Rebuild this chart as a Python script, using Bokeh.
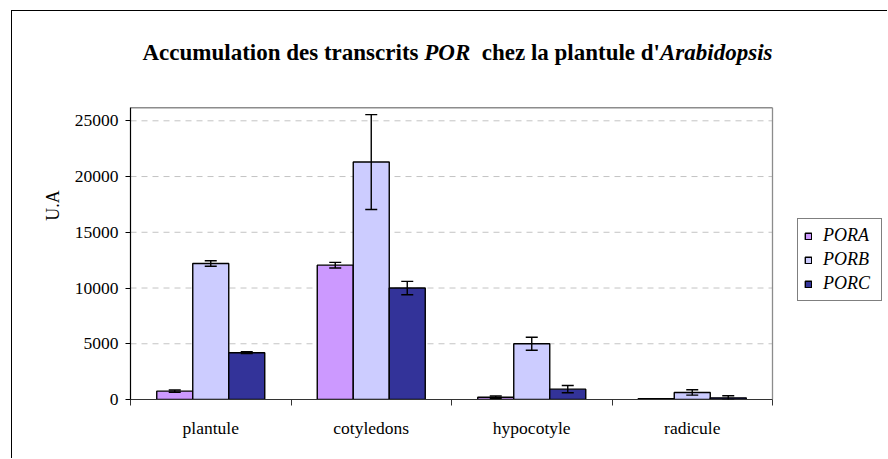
import numpy as np
from bokeh.plotting import figure
from bokeh.models import (Range1d, FixedTicker, ColumnDataSource, Whisker, Legend,
                          LegendItem, Label, TeeHead)
from bokeh.embed import file_html
from bokeh.resources import INLINE

categories = ["plantule", "cotyledons", "hypocotyle", "radicule"]
series = ["PORA", "PORB", "PORC"]
pora = [750, 12050, 200, 80]
porb = [12200, 21300, 5000, 630]
porc = [4200, 10000, 930, 150]
pora_err = [100, 250, 120, 0]
porb_err = [250, 4250, 580, 240]
porc_err = [80, 600, 330, 180]
colors = ["#CC99FF", "#CCCCFF", "#333399"]
y_ticks = [0, 5000, 10000, 15000, 20000, 25000]
y_top = 26170

FONT = "Liberation Serif"

# geometry (page px): chart border at (11,10), plot area x 130..772, y 107..399
W, H = 876, 448
left_b, bottom_b = 118, 60
frame_w = W - left_b
frame_h = H - bottom_b
unit_px = 160.5                      # px per category
px_per_val = 278.7 / 25000.0         # px per unit value
x_end = frame_w / unit_px
y_end = frame_h / px_per_val
ncat = len(categories)

p = figure(width=W, height=H, x_range=Range1d(0, x_end), y_range=Range1d(0, y_end),
           output_backend="svg", toolbar_location=None,
           min_border_left=left_b, min_border_right=0, min_border_top=0,
           min_border_bottom=bottom_b)
p.margin = (10, 0, 0, 11)
p.styles = {"border-left": "1px solid black", "border-top": "1px solid black"}
p.outline_line_color = None

# axes
centers = np.arange(ncat) + 0.5
p.xaxis.ticker = FixedTicker(ticks=list(centers), minor_ticks=list(range(ncat + 1)))
p.xaxis.major_label_overrides = {float(c): cat for c, cat in zip(centers, categories)}
p.xaxis.bounds = (0, ncat)
p.xaxis.major_tick_out = 0
p.xaxis.major_tick_in = 0
p.xaxis.minor_tick_out = 6
p.xaxis.minor_tick_in = 0
p.xaxis.minor_tick_line_color = "#333333"
p.xaxis.axis_line_color = "#333333"
p.xaxis.axis_line_width = 1.2
p.xaxis.major_label_text_font = FONT
p.xaxis.major_label_text_font_size = "17.5px"
p.xaxis.major_label_text_color = "black"
p.xaxis.major_label_standoff = 12

p.yaxis.ticker = FixedTicker(ticks=y_ticks)
p.yaxis.bounds = (0, y_top)
p.yaxis.major_tick_out = 5
p.yaxis.major_tick_in = 0
p.yaxis.minor_tick_line_color = None
p.yaxis.axis_line_color = "black"
p.yaxis.axis_line_width = 1.2
p.yaxis.major_tick_line_color = "black"
p.yaxis.major_label_text_font = FONT
p.yaxis.major_label_text_font_size = "17.5px"
p.yaxis.major_label_text_color = "black"
p.yaxis.major_label_standoff = 7
p.yaxis.axis_label = "U.A"
p.yaxis.axis_label_text_font = FONT
p.yaxis.axis_label_text_font_style = "normal"
p.yaxis.axis_label_text_font_size = "18px"
p.yaxis.axis_label_text_color = "black"
p.yaxis.axis_label_standoff = 9

p.xgrid.visible = False
p.ygrid.visible = False

# dashed gridlines limited to the plot area
gy = y_ticks[1:]
p.segment(x0=[0] * len(gy), y0=gy, x1=[ncat] * len(gy), y1=gy,
          line_color="#c4c4c4", line_dash="6 5", line_width=1)
# plot-area border (top, right)
p.segment(x0=[0, ncat], y0=[y_top, 0], x1=[ncat, ncat], y1=[y_top, y_top],
          line_color="#8c8c8c", line_width=1.3)

# bars
bw = 0.2243
vals = [pora, porb, porc]
errs = [pora_err, porb_err, porc_err]
items = []
for k, (name, v, e, col) in enumerate(zip(series, vals, errs, colors)):
    xs = centers + (k - 1) * bw
    src = ColumnDataSource(dict(x=xs, top=v))
    r = p.vbar(x="x", top="top", width=bw, source=src, fill_color=col,
               line_color="black", line_width=1.4)
    items.append(LegendItem(label=name, renderers=[r]))
    ev = np.array(e, dtype=float)
    vv = np.array(v, dtype=float)
    m = ev > 0
    esrc = ColumnDataSource(dict(x=xs[m], upper=(vv + ev)[m], lower=(vv - ev)[m]))
    w = Whisker(base="x", upper="upper", lower="lower", source=esrc,
                line_color="black", line_width=1.4, level="overlay",
                upper_head=TeeHead(size=12, line_width=1.4, line_color="black"),
                lower_head=TeeHead(size=12, line_width=1.4, line_color="black"))
    p.add_layout(w)

legend = Legend(items=items, location=(667, 98))
legend.glyph_width = 8
legend.glyph_height = 8
legend.label_text_font = FONT
legend.label_text_font_style = "italic"
legend.label_text_font_size = "18px"
legend.label_text_color = "black"
legend.label_width = 52
legend.border_line_color = "black"
legend.border_line_width = 1
legend.background_fill_alpha = 1
legend.padding = 6
legend.spacing = 3
legend.margin = 0
legend.label_standoff = 11
p.add_layout(legend)

# title with mixed bold / bold italic segments (Times metrics)
bold_w = {'A': 722, 'c': 444, 'u': 556, 'm': 833, 'l': 278, 'a': 500, 't': 333, 'i': 278,
          'o': 500, 'n': 556, ' ': 250, 'd': 556, 'e': 444, 's': 389, 'r': 444, 'h': 556,
          'z': 444, 'p': 556, "'": 278}
bi_w = {'P': 611, 'O': 722, 'R': 667, 'A': 667, 'r': 389, 'a': 500, 'b': 500, 'i': 278,
        'd': 500, 'o': 500, 'p': 500, 's': 389, ' ': 250}
title_parts = [("Accumulation des transcrits ", "bold"), ("POR", "bold italic"),
               ("  chez la plantule d'", "bold"), ("Arabidopsis", "bold italic")]
tsize = 23.0
widths = []
for txt, st in title_parts:
    table = bold_w if st == "bold" else bi_w
    widths.append(sum(table.get(ch, 500) for ch in txt) * tsize / 1000.0)
total = sum(widths)
x0 = (457 - 130) - total / 2.0
for (txt, st), wdt in zip(title_parts, widths):
    table = bold_w if st == "bold" else bi_w
    lead = len(txt) - len(txt.lstrip(" "))
    off = lead * table[' '] * tsize / 1000.0
    p.add_layout(Label(x=x0 + off, y=399 - 52, x_units="screen", y_units="screen",
                       text=txt.strip(), text_font=FONT, text_font_style=st,
                       text_font_size=f"{tsize}px", text_color="black",
                       text_align="left", text_baseline="alphabetic"))
    x0 += wdt

open("out.html", "w").write(file_html(p, INLINE))
